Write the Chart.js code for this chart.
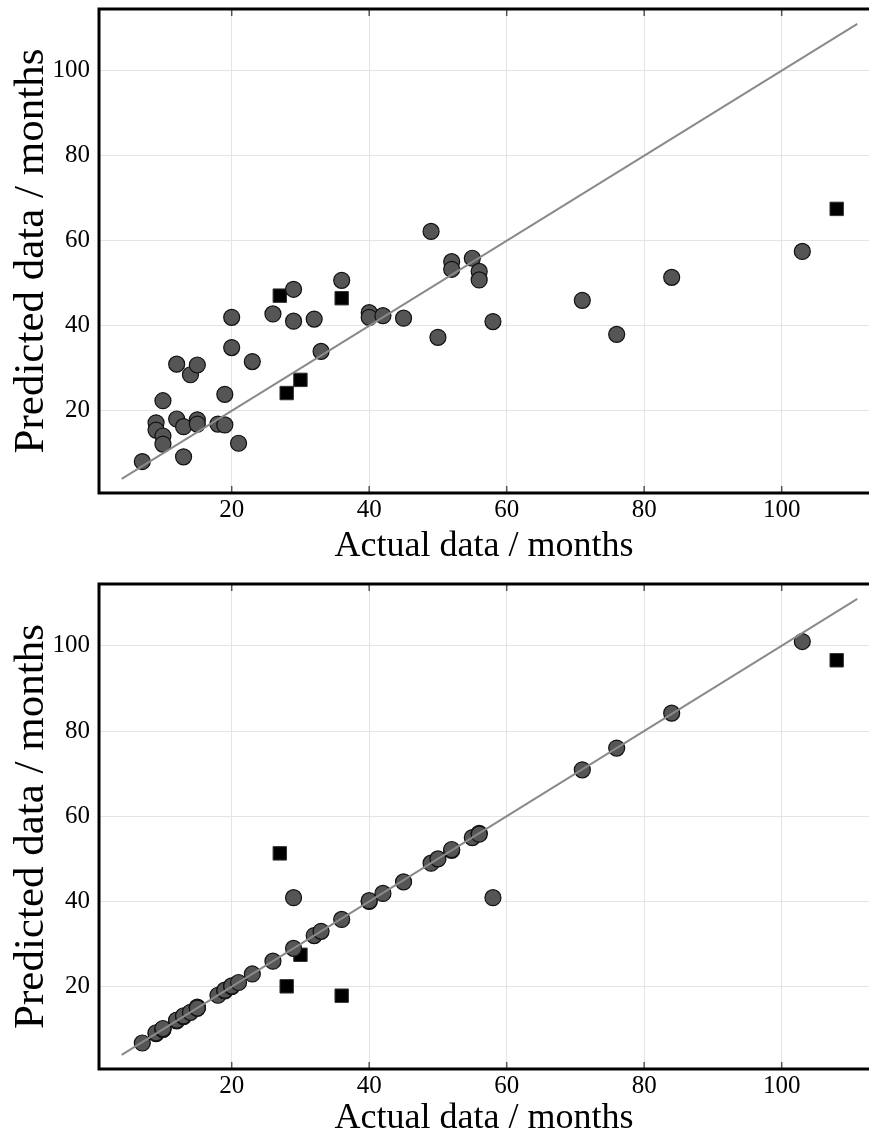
<!DOCTYPE html>
<html>
<head>
<meta charset="utf-8">
<script src="https://cdn.jsdelivr.net/npm/chart.js@4.4.1/dist/chart.umd.min.js"></script>
<style>
  html, body { margin: 0; background: #fff; overflow: hidden; }
  .panel { position: absolute; left: 0; width: 869px; }
  canvas { display: block; }
</style>
</head>
<body>
<div class="panel" style="top:0;height:566px"><canvas id="topChart"></canvas></div>
<div class="panel" style="top:566px;height:572px"><canvas id="bottomChart"></canvas></div>
<script>
// actual values (same cases in both panels)
const circleActual = [7, 9, 9, 10, 10, 10, 12, 12, 13, 13, 14, 15, 15, 15, 18, 19, 19, 20, 20, 21, 23, 26, 29, 29, 32, 33, 36, 40, 40, 42, 45, 49, 50, 52, 52, 55, 56, 56, 58, 71, 76, 84, 103];
// predictions, upper panel
const circlePredTop = [8.1, 17.2, 15.5, 22.4, 14.1, 12.2, 31.0, 18.1, 16.3, 9.2, 28.5, 30.8, 17.9, 16.9, 16.9, 23.9, 16.7, 42.0, 34.9, 12.4, 31.6, 42.8, 48.6, 41.1, 41.6, 34.0, 50.7, 43.1, 42.0, 42.4, 41.8, 62.2, 37.3, 55.1, 53.3, 55.9, 52.8, 50.8, 41.0, 46.0, 38.0, 51.4, 57.5];
// predictions, lower panel
const circlePredBottom = [6.8, 9.0, 9.2, 10.0, 10.0, 10.2, 12.0, 12.2, 13.0, 13.2, 14.0, 15.0, 15.2, 15.0, 18.0, 19.0, 19.2, 20.0, 20.2, 21.0, 23.0, 26.0, 40.9, 29.0, 32.0, 33.0, 35.8, 40.0, 40.2, 41.9, 44.6, 49.0, 50.0, 52.0, 52.2, 55.0, 56.0, 55.8, 40.9, 70.9, 76.0, 84.2, 101.0];

// square markers
const squareActual = [27, 28, 30, 36, 108];
const squarePredTop = [47.1, 24.2, 27.3, 46.5, 67.5];
const squarePredBottom = [51.3, 20.1, 27.5, 17.9, 96.6];

// y = x reference line end points
const diagLine = [4, 111];

const xTicks = [20, 40, 60, 80, 100];
const yTicks = [20, 40, 60, 80, 100];
const xRange = [0.7, 112.7];
const yRange = [0.7, 114.5];

const serif = "'Liberation Serif', 'Times New Roman', serif";

// black frame + inward tick marks
const framePlugin = {
  id: 'frame',
  afterDatasetsDraw(chart) {
    const { ctx, chartArea: a, scales: { x } } = chart;
    ctx.save();
    ctx.strokeStyle = '#555';
    ctx.lineWidth = 1.5;
    ctx.beginPath();
    xTicks.forEach((v) => {
      const px = x.getPixelForValue(v);
      ctx.moveTo(px, a.top);
      ctx.lineTo(px, a.top + 7);
      ctx.moveTo(px, a.bottom);
      ctx.lineTo(px, a.bottom - 7);
    });
    ctx.stroke();
    ctx.strokeStyle = '#000';
    ctx.lineWidth = 3;
    ctx.beginPath();
    ctx.moveTo(a.right + 2, a.top);
    ctx.lineTo(a.left, a.top);
    ctx.lineTo(a.left, a.bottom);
    ctx.lineTo(a.right + 2, a.bottom);
    ctx.stroke();
    ctx.restore();
  },
};

const toPoints = (xs, ys) => xs.map((v, i) => ({ x: v, y: ys[i] }));

function makeChart(id, circlePred, squarePred, padTop, xAxisHeight) {
  return new Chart(document.getElementById(id), {
    type: 'scatter',
    data: {
      datasets: [
        {
          type: 'line',
          data: toPoints(diagLine, diagLine),
          borderColor: '#8a8a8a',
          borderWidth: 2,
          pointRadius: 0,
          fill: false,
          order: 0,
        },
        {
          data: toPoints(circleActual, circlePred),
          pointStyle: 'circle',
          pointRadius: 8,
          pointBackgroundColor: '#555555',
          pointBorderColor: '#111',
          pointBorderWidth: 1.2,
          order: 1,
        },
        {
          data: toPoints(squareActual, squarePred),
          pointStyle: 'rect',
          pointRadius: 9.5,
          pointBackgroundColor: '#000',
          pointBorderColor: '#333',
          pointBorderWidth: 1,
          order: 2,
        },
      ],
    },
    options: {
      responsive: true,
      maintainAspectRatio: false,
      animation: false,
      layout: { autoPadding: false, padding: { top: padTop, left: 0, right: 0, bottom: 0 } },
      plugins: { legend: { display: false }, tooltip: { enabled: false } },
      scales: {
        x: {
          type: 'linear',
          min: xRange[0],
          max: xRange[1],
          afterBuildTicks: (s) => { s.ticks = xTicks.map((v) => ({ value: v })); },
          afterFit: (s) => { s.height = xAxisHeight; s.paddingLeft = 0; s.paddingRight = 0; },
          grid: { color: '#e4e4e4', lineWidth: 1, drawTicks: false },
          border: { display: false },
          ticks: { color: '#000', padding: 2, font: { family: serif, size: 25 } },
          title: {
            display: true,
            text: 'Actual data / months',
            color: '#000',
            font: { family: serif, size: 36, lineHeight: 1 },
            padding: { top: 0, bottom: 1 },
          },
        },
        y: {
          type: 'linear',
          min: yRange[0],
          max: yRange[1],
          afterBuildTicks: (s) => { s.ticks = yTicks.map((v) => ({ value: v })); },
          afterFit: (s) => { s.width = 99; s.paddingTop = 0; s.paddingBottom = 0; },
          grid: { color: '#e4e4e4', lineWidth: 1, drawTicks: false },
          border: { display: false },
          ticks: { color: '#000', padding: 9, font: { family: serif, size: 25 } },
          title: {
            display: true,
            text: 'Predicted data / months',
            color: '#000',
            font: { family: serif, size: 43 },
            padding: { top: 6, bottom: 0 },
          },
        },
      },
    },
    plugins: [framePlugin],
  });
}

makeChart('topChart', circlePredTop, squarePredTop, 9, 73);
makeChart('bottomChart', circlePredBottom, squarePredBottom, 18, 69);
</script>
</body>
</html>
